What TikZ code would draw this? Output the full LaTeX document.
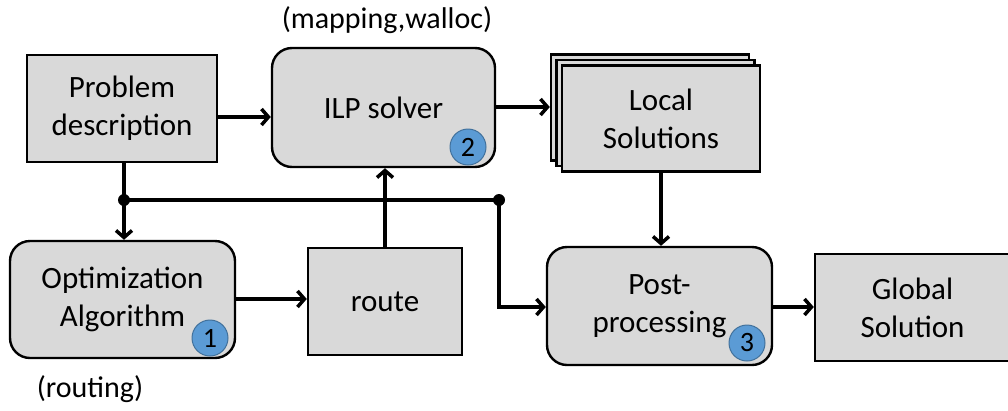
\documentclass[tikz,border=0pt]{standalone}
\usepackage{fontspec}
\setmainfont{Carlito}
\usetikzlibrary{arrows.meta}
\definecolor{boxgray}{HTML}{D9D9D9}
\definecolor{badgeblue}{HTML}{5B9BD5}
\definecolor{badgeedge}{HTML}{41719C}
\tikzset{
  x=1pt, y=-1pt,
  base/.style={draw=black, line width=2.4pt, fill=boxgray, align=center,
    font=\fontsize{31}{38}\selectfont, inner sep=0pt},
  sqbox/.style={base},
  rbox/.style={base, rounded corners=20pt},
  badge/.style={circle, fill=badgeblue, draw=badgeedge, line width=1pt,
    minimum size=36pt, inner sep=0pt, font=\fontsize{28}{28}\selectfont},
  arr/.style={line width=3.5pt, -{Straight Barb[length=7pt,width=16pt,line width=3.5pt]}},
  conn/.style={line width=3.5pt},
  jdot/.style={circle, fill=black, inner sep=0pt, minimum size=12pt},
  caption/.style={font=\fontsize{30}{34}\selectfont, inner sep=0pt}
}
\begin{document}
\begin{tikzpicture}
\useasboundingbox (0,0) rectangle (1008,410);

% boxes
\node[sqbox, minimum width=190pt, minimum height=107pt] (prob) at (122,108.5) {Problem\\description};
\node[rbox, minimum width=223pt, minimum height=119pt] (ilp) at (383.5,107.5) {ILP solver};

% stacked local solutions
\node[sqbox, minimum width=198pt, minimum height=106pt] (lback) at (650,107.5) {};
\node[sqbox, minimum width=198pt, minimum height=106pt] (lmid) at (655.5,113) {};
\node[sqbox, minimum width=198pt, minimum height=106pt] (local) at (661,118.5) {Local\\Solutions};

\node[rbox, minimum width=225pt, minimum height=117pt] (opt) at (122.5,299.5) {Optimization\\Algorithm};
\node[sqbox, minimum width=154pt, minimum height=107pt] (route) at (385,301.5) {route};
\node[rbox, minimum width=225pt, minimum height=118pt] (post) at (659.5,306) {Post-\\processing};
\node[sqbox, minimum width=195pt, minimum height=107pt] (glob) at (912.5,307.5) {Global\\Solution};

% numbered badges
\node[badge] (b2) at (468,147) {2};
\node[badge] (b1) at (210,338) {1};
\node[badge] (b3) at (747,343) {3};

% captions
\node[caption] (capilp) at (387,20) {(mapping,walloc)};
\node[caption] (capopt) at (90,389) {(routing)};

% junction points
\node[jdot] (j1) at (124,200) {};
\node[jdot] (j2) at (499,200) {};

% connectors
\draw[arr] (prob.east |- 0,117) -- (ilp.west |- 0,117);
\draw[arr] (ilp.east |- 0,107) -- (lback.west |- 0,107);
\draw[arr] (local.south) -- (post.north -| local.south);
\draw[conn] (prob.south -| j1) -- (j1.center);
\draw[arr] (j1.center) -- (opt.north -| j1);
\draw[conn] (j1.center) -- (j2.center);
\draw[arr] (j2.center) |- (post.west |- 0,307);
\draw[arr] (route.north) -- (ilp.south -| route.north);
\draw[arr] (opt.east |- 0,299) -- (route.west |- 0,299);
\draw[arr] (post.east |- 0,307) -- (glob.west |- 0,307);
\end{tikzpicture}
\end{document}
